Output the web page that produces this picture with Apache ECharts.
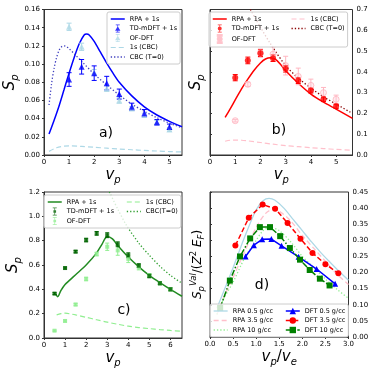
<!DOCTYPE html>
<html>
<head>
<meta charset="utf-8">
<script src="https://cdn.jsdelivr.net/npm/echarts@6/dist/echarts.min.js"></script>
<style>
html, body { margin: 0; padding: 0; background: #fff; }
#chart { width: 374px; height: 374px; }
</style>
</head>
<body>
<div id="chart"></div>
<script>
// ---- panel a) ----
const aRpaX = [0.2, 0.4, 0.6, 0.8, 1.0, 1.2, 1.4, 1.6, 1.7, 1.8, 2.0, 2.25, 2.5, 2.75, 3.0, 3.5, 4.0, 4.5, 5.0, 5.5];
const aRpaY = [0.023, 0.038, 0.054, 0.072, 0.090, 0.107, 0.122, 0.132, 0.133, 0.132, 0.125, 0.113, 0.101, 0.090, 0.080, 0.065, 0.053, 0.044, 0.037, 0.031];
const aCbcX = [0.2, 0.3, 0.4, 0.5, 0.6, 0.7, 0.8, 0.9, 1.0, 1.25, 1.5, 2.0, 2.5, 3.0, 3.5, 4.0, 4.5, 5.0, 5.5];
const aCbcY = [0.055, 0.078, 0.095, 0.107, 0.115, 0.119, 0.120, 0.119, 0.117, 0.110, 0.103, 0.089, 0.077, 0.066, 0.056, 0.048, 0.041, 0.035, 0.030];
const a1sX = [0.2, 0.5, 0.8, 1.0, 1.5, 2.0, 2.5, 3.0, 3.5, 4.0, 4.5, 5.0, 5.5];
const a1sY = [0.004, 0.008, 0.0098, 0.010, 0.0095, 0.0085, 0.0075, 0.0066, 0.0058, 0.005, 0.0044, 0.0038, 0.0033];
const aPtX = [1, 1.5, 2, 2.5, 3, 3.5, 4, 4.5, 5];
const aTdY = [0.083, 0.097, 0.090, 0.079, 0.067, 0.053, 0.046, 0.036, 0.031];
const aTdE = [0.0075, 0.008, 0.008, 0.0075, 0.0055, 0.004, 0.004, 0.003, 0.003];
const aOfY = [0.141, 0.119, 0.091, 0.073, 0.060, 0.051, 0.044, 0.036, 0.028];
const aOfE = [0.004, 0.004, 0.003, 0.003, 0.003, 0.002, 0.002, 0.002, 0.002];

// ---- panel b) ----
const bRpaX = [0.6, 0.8, 1.0, 1.25, 1.5, 1.75, 2.0, 2.2, 2.4, 2.6, 2.8, 3.0, 3.5, 4.0, 4.5, 5.0, 5.65];
const bRpaY = [0.181, 0.222, 0.265, 0.318, 0.365, 0.408, 0.443, 0.462, 0.468, 0.460, 0.435, 0.405, 0.345, 0.293, 0.254, 0.221, 0.176];
const bCbcX = [1.6, 2.0, 2.4, 3.0, 3.5, 4.0, 4.5, 5.0, 5.65];
const bCbcY = [0.70, 0.615, 0.535, 0.43, 0.37, 0.322, 0.28, 0.245, 0.20];
const b1sX = [0.6, 0.8, 1.0, 1.25, 1.5, 2.0, 2.5, 3.0, 3.5, 4.0, 4.5, 5.0, 5.65];
const b1sY = [0.066, 0.071, 0.072, 0.071, 0.068, 0.060, 0.052, 0.045, 0.040, 0.035, 0.031, 0.027, 0.023];
const bPtX = [1, 1.5, 2, 2.5, 3, 3.5, 4, 4.5, 5];
const bTdY = [0.372, 0.455, 0.49, 0.466, 0.415, 0.358, 0.31, 0.268, 0.234];
const bTdE = [0.015, 0.016, 0.016, 0.016, 0.016, 0.014, 0.012, 0.011, 0.01];
const bOfY = [0.165, 0.34, 0.49, 0.485, 0.43, 0.378, 0.335, 0.30, 0.268];
const bOfE = [0.006, 0.01, 0.02, 0.035, 0.045, 0.04, 0.03, 0.025, 0.02];

// ---- panel c) ----
const cRpaX = [0.55, 0.65, 0.8, 1.0, 1.25, 1.5, 2.0, 2.5, 2.75, 3.0, 3.25, 3.5, 4.0, 4.5, 5.0, 5.5, 6.0, 6.55];
const cRpaY = [0.365, 0.34, 0.39, 0.44, 0.48, 0.52, 0.60, 0.70, 0.77, 0.835, 0.815, 0.76, 0.665, 0.585, 0.515, 0.455, 0.40, 0.343];
const cCbcX = [3.1, 3.5, 3.9, 4.5, 5.0, 5.5, 6.0, 6.55];
const cCbcY = [1.2, 1.06, 0.93, 0.78, 0.68, 0.59, 0.515, 0.45];
const c1sX = [0.6, 0.8, 0.9, 1.0, 1.25, 1.5, 2.0, 2.5, 3.0, 3.5, 4.0, 4.5, 5.0, 5.5, 6.0, 6.55];
const c1sY = [0.19, 0.20, 0.205, 0.204, 0.198, 0.19, 0.17, 0.15, 0.13, 0.113, 0.097, 0.086, 0.077, 0.069, 0.062, 0.056];
const cPtX = [0.5, 1, 1.5, 2, 2.5, 3, 3.5, 4, 4.5, 5, 5.5, 6];
const cTdY = [0.365, 0.575, 0.71, 0.805, 0.86, 0.845, 0.77, 0.68, 0.595, 0.51, 0.45, 0.40];
const cTdE = [0.008, 0.008, 0.01, 0.015, 0.015, 0.02, 0.02, 0.02, 0.015, 0.015, 0.012, 0.012];
const cOfY = [0.06, 0.14, 0.275, 0.485, 0.69, 0.75, 0.72, 0.65, 0.58, 0.515, 0.45, 0.40];
const cOfE = [0.005, 0.008, 0.01, 0.015, 0.015, 0.03, 0.04, 0.03, 0.02, 0.015, 0.012, 0.012];

// ---- panel d) ----
const dRpa05X = [0.15, 0.22, 0.5, 0.75, 1.0, 1.15, 1.28, 1.4, 1.6, 1.8, 2.0, 2.2, 2.4, 2.6, 2.8, 3.0];
const dRpa05Y = [0.09, 0.114, 0.215, 0.31, 0.395, 0.423, 0.43, 0.425, 0.40, 0.365, 0.33, 0.295, 0.262, 0.232, 0.203, 0.176];
const dRpa35X = [0.15, 0.27, 0.5, 0.75, 1.0, 1.2, 1.35, 1.5, 1.75, 2.0, 2.25, 2.5, 2.75, 3.0];
const dRpa35Y = [0.07, 0.114, 0.185, 0.265, 0.34, 0.383, 0.395, 0.39, 0.36, 0.315, 0.275, 0.235, 0.195, 0.163];
const dRpa10X = [0.15, 0.3, 0.5, 0.75, 1.0, 1.15, 1.3, 1.5, 1.75, 2.0, 2.25, 2.5, 2.75, 3.0];
const dRpa10Y = [0.07, 0.12, 0.17, 0.245, 0.30, 0.33, 0.34, 0.33, 0.295, 0.25, 0.215, 0.18, 0.148, 0.12];
const dDft05X = [0.77, 0.95, 1.13, 1.33, 1.55, 1.92, 2.31, 2.71];
const dDft05Y = [0.25, 0.285, 0.303, 0.304, 0.283, 0.249, 0.211, 0.165];
const dDft35X = [0.55, 0.84, 1.14, 1.41, 1.68, 1.96, 2.22, 2.5, 2.78];
const dDft35Y = [0.284, 0.37, 0.411, 0.398, 0.354, 0.305, 0.261, 0.226, 0.198];
const dDft10X = [0.22, 0.43, 0.65, 0.87, 1.08, 1.30, 1.52, 1.73, 1.95, 2.16, 2.38, 2.59];
const dDft10Y = [0.09, 0.175, 0.25, 0.306, 0.341, 0.341, 0.313, 0.276, 0.24, 0.208, 0.181, 0.16];

// tick values
const aXTicks = [0, 1, 2, 3, 4, 5];
const aYTicks = [0, 0.02, 0.04, 0.06, 0.08, 0.10, 0.12, 0.14, 0.16];
const bYTicks = [0, 0.1, 0.2, 0.3, 0.4, 0.5, 0.6, 0.7];
const cXTicks = [0, 1, 2, 3, 4, 5, 6];
const cYTicks = [0, 0.2, 0.4, 0.6, 0.8, 1.0, 1.2];
const dXTicks = [0, 0.5, 1.0, 1.5, 2.0, 2.5, 3.0];
const dYTicks = [0, 0.05, 0.10, 0.15, 0.20, 0.25, 0.30, 0.35, 0.40, 0.45];

const FONT = "DejaVu Sans";
const FRAME = "#333";

const pairs = (xs, ys) => xs.map((x, i) => [x, ys[i]]);

// legend icons: marker with an error bar, like matplotlib's errorbar handles
const BAR = "M3,0H9V1H3Z M5.5,0H6.5V12H5.5Z M3,11H9V12H3Z ";
const ICON_TRI = "path://" + BAR + "M6,2.5L10,9.5H2Z";
const ICON_CIRC = "path://" + BAR + "M6,3A3,3 0 1,1 5.99,3Z";
const ICON_SQ = "path://" + BAR + "M4,4H8V8H4Z";

const rich = {
    i: { fontSize: 15, fontStyle: "italic", fontFamily: FONT, color: "#000", lineHeight: 20, verticalAlign: "middle" },
    n: { fontSize: 15, fontFamily: FONT, color: "#000", lineHeight: 20, verticalAlign: "middle" },
    sub: { fontSize: 10, fontStyle: "italic", fontFamily: FONT, color: "#000", lineHeight: 8, verticalAlign: "bottom" },
    si: { fontSize: 12, fontStyle: "italic", fontFamily: FONT, color: "#000", lineHeight: 17, verticalAlign: "middle" },
    sn: { fontSize: 12, fontFamily: FONT, color: "#000", lineHeight: 17, verticalAlign: "middle" },
    ssub: { fontSize: 8.5, fontStyle: "italic", fontFamily: FONT, color: "#000", lineHeight: 7, verticalAlign: "bottom" },
    ssup: { fontSize: 8.5, fontStyle: "italic", fontFamily: FONT, color: "#000", lineHeight: 7, verticalAlign: "top" },
    ssupn: { fontSize: 8.5, fontFamily: FONT, color: "#000", lineHeight: 7, verticalAlign: "top" },
};

const value_axis = function (grid, min, max, ticks, digits, extra) {
    return Object.assign({
        type: "value",
        gridIndex: grid,
        min: min,
        max: max,
        nameLocation: "middle",
        nameTextStyle: { rich: rich },
        axisLine: { show: true, lineStyle: { color: FRAME, width: 1 } },
        axisTick: { show: true, length: 2, customValues: ticks, lineStyle: { color: FRAME } },
        axisLabel: {
            customValues: ticks,
            formatter: (v) => v.toFixed(digits),
            fontSize: 7,
            fontFamily: FONT,
            color: "#000",
            margin: 4,
        },
        splitLine: { show: false },
    }, extra || {});
};

const name_axis = function (grid, min, max, name, gap) {
    return {
        type: "value",
        gridIndex: grid,
        min: min,
        max: max,
        position: "left",
        name: name,
        nameLocation: "middle",
        nameGap: gap,
        nameTextStyle: { rich: rich },
        axisLine: { show: false },
        axisTick: { show: false },
        axisLabel: { show: false },
        splitLine: { show: false },
    };
};

const line = function (name, ax, ay, xs, ys, color, width, type) {
    return {
        type: "line",
        name: name,
        xAxisIndex: ax,
        yAxisIndex: ay,
        data: pairs(xs, ys),
        symbol: "none",
        smooth: 0.3,
        lineStyle: { color: color, width: width, type: type || "solid" },
        itemStyle: { color: color },
        z: 2,
    };
};

const marked_line = function (name, ax, ay, xs, ys, color, type, symbol) {
    return {
        type: "line",
        name: name,
        xAxisIndex: ax,
        yAxisIndex: ay,
        data: pairs(xs, ys),
        symbol: symbol,
        symbolSize: 6,
        showSymbol: true,
        lineStyle: { color: color, width: 1.5, type: type },
        itemStyle: { color: color },
        z: 3,
    };
};

const points = function (name, ax, ay, xs, ys, symbol, size, itemStyle) {
    return {
        type: "scatter",
        name: name,
        xAxisIndex: ax,
        yAxisIndex: ay,
        data: pairs(xs, ys),
        symbol: symbol,
        symbolSize: size,
        itemStyle: itemStyle,
        z: 4,
    };
};

const err_bars = function (ax, ay, xs, ys, es, color, cap) {
    return {
        type: "custom",
        xAxisIndex: ax,
        yAxisIndex: ay,
        silent: true,
        z: 3,
        data: xs.map((x, i) => [x, ys[i], es[i]]),
        encode: { x: 0, y: 1 },
        renderItem: function (params, api) {
            const x = api.value(0), y = api.value(1), e = api.value(2);
            const lo = api.coord([x, y - e]);
            const hi = api.coord([x, y + e]);
            const style = { stroke: color, lineWidth: 1 };
            return {
                type: "group",
                children: [
                    { type: "line", shape: { x1: lo[0], y1: lo[1], x2: hi[0], y2: hi[1] }, style: style },
                    { type: "line", shape: { x1: lo[0] - cap, y1: lo[1], x2: lo[0] + cap, y2: lo[1] }, style: style },
                    { type: "line", shape: { x1: hi[0] - cap, y1: hi[1], x2: hi[0] + cap, y2: hi[1] }, style: style },
                ],
            };
        },
    };
};

// legend; names in the first column get a fixed text width so the
// second column starts where matplotlib put it
const legend = function (left, top, data, colWidth) {
    const firstCol = [];
    for (const d of data) {
        if (d === "") break;
        firstCol.push(typeof d === "string" ? d : d.name);
    }
    const tStyle = { fontSize: 6.5, fontFamily: FONT, color: "#000", lineHeight: 8 };
    return {
        left: left,
        top: top,
        orient: "vertical",
        itemWidth: 14,
        itemHeight: 8,
        itemGap: 1.5,
        padding: [3, 3, 3, 3],
        backgroundColor: "rgba(255,255,255,0.8)",
        borderColor: "#cccccc",
        borderWidth: 1,
        borderRadius: 2,
        selectedMode: false,
        lineStyle: { width: "inherit" },
        formatter: (n) => (colWidth && firstCol.includes(n) ? "{t|" + n.slice(2) + "}" : n.slice(2)),
        textStyle: Object.assign({ rich: { t: Object.assign({ width: colWidth || null }, tStyle) } }, tStyle),
        data: data,
    };
};

const no_mark = { opacity: 0 };

const option = {
    animation: false,
    backgroundColor: "#fff",
    grid: [
        { left: 44, top: 9.5, width: 138, height: 145.5, show: true, borderColor: FRAME, borderWidth: 1 },
        { left: 210, top: 9.5, width: 142.5, height: 145.5, show: true, borderColor: FRAME, borderWidth: 1 },
        { left: 44, top: 192, width: 138, height: 146, show: true, borderColor: FRAME, borderWidth: 1 },
        { left: 210, top: 192, width: 138.5, height: 145, show: true, borderColor: FRAME, borderWidth: 1 },
    ],
    xAxis: [
        value_axis(0, 0, 5.5, aXTicks, 0, { name: "{i|v}{sub|p}", nameGap: 10 }),
        value_axis(1, 0, 5.65, aXTicks, 0, { name: "{i|v}{sub|p}", nameGap: 10 }),
        value_axis(2, 0, 6.55, cXTicks, 0, { name: "{i|v}{sub|p}", nameGap: 10 }),
        value_axis(3, 0, 3.0, dXTicks, 1, { name: "{i|v}{sub|p}{n|/}{i|v}{sub|e}", nameGap: 10 }),
    ],
    yAxis: [
        value_axis(0, 0, 0.16, aYTicks, 2, { position: "left", name: "{i|S}{sub|p}", nameGap: 23 }),
        value_axis(1, 0, 0.7, bYTicks, 1, { position: "right" }),
        name_axis(1, 0, 0.7, "{i|S}{sub|p}", 4),
        value_axis(2, 0, 1.2, cYTicks, 1, { position: "left", name: "{i|S}{sub|p}", nameGap: 21 }),
        value_axis(3, 0, 0.45, dYTicks, 2, { position: "right" }),
        name_axis(3, 0, 0.45, "{si|S}{ssub|p}{ssup|Val}{sn|/(}{si|Z}{ssupn|2}{sn| }{si|E}{ssub|F}{sn|)}", 4),
    ],
    legend: [
        legend(107, 12, [
            { name: "a:RPA + 1s", itemStyle: no_mark },
            { name: "a:TD-mDFT + 1s", icon: ICON_TRI },
            { name: "a:OF-DFT", icon: ICON_TRI },
            { name: "a:1s (CBC)", itemStyle: no_mark },
            { name: "a:CBC (T=0)", itemStyle: no_mark },
        ]),
        legend(209, 12, [
            { name: "b:RPA + 1s", itemStyle: no_mark },
            { name: "b:TD-mDFT + 1s", icon: ICON_CIRC },
            { name: "b:OF-DFT", icon: ICON_CIRC },
            "",
            { name: "b:1s (CBC)", itemStyle: no_mark },
            { name: "b:CBC (T=0)", itemStyle: no_mark },
        ], 57.5),
        legend(44, 195, [
            { name: "c:RPA + 1s", itemStyle: no_mark },
            { name: "c:TD-mDFT + 1s", icon: ICON_SQ },
            { name: "c:OF-DFT", icon: ICON_SQ },
            "",
            { name: "c:1s (CBC)", itemStyle: no_mark },
            { name: "c:CBC(T=0)", itemStyle: no_mark },
        ], 57.8),
        legend(210, 304, [
            { name: "d:RPA 0.5 g/cc", itemStyle: no_mark },
            { name: "d:RPA 3.5 g/cc", itemStyle: no_mark },
            { name: "d:RPA 10 g/cc", itemStyle: no_mark },
            "",
            "d:DFT 0.5 g/cc",
            "d:DFT 3.5 g/cc",
            "d:DFT 10 g/cc",
        ], 51),
    ],
    graphic: [
        { type: "text", x: 106, y: 133, style: { text: "a)", font: "14px DejaVu Sans", fill: "#000", align: "center", verticalAlign: "middle" }, z: 10 },
        { type: "text", x: 279, y: 130, style: { text: "b)", font: "14px DejaVu Sans", fill: "#000", align: "center", verticalAlign: "middle" }, z: 10 },
        { type: "text", x: 124, y: 310, style: { text: "c)", font: "14px DejaVu Sans", fill: "#000", align: "center", verticalAlign: "middle" }, z: 10 },
        { type: "text", x: 262, y: 285, style: { text: "d)", font: "14px DejaVu Sans", fill: "#000", align: "center", verticalAlign: "middle" }, z: 10 },
    ],
    series: [
        // a)
        line("a:RPA + 1s", 0, 0, aRpaX, aRpaY, "#0000ff", 1.5),
        err_bars(0, 0, aPtX, aOfY, aOfE, "#add8e6", 2.5),
        points("a:OF-DFT", 0, 0, aPtX, aOfY, "triangle", 6, { color: "#add8e6" }),
        err_bars(0, 0, aPtX, aTdY, aTdE, "#0000ff", 2.5),
        points("a:TD-mDFT + 1s", 0, 0, aPtX, aTdY, "triangle", 6, { color: "#0000ff" }),
        line("a:1s (CBC)", 0, 0, a1sX, a1sY, "#add8e6", 1.2, [5, 3]),
        line("a:CBC (T=0)", 0, 0, aCbcX, aCbcY, "#3f3fbf", 1.3, [1.3, 2]),
        // b)
        line("b:RPA + 1s", 1, 1, bRpaX, bRpaY, "#ff0000", 1.5),
        err_bars(1, 1, bPtX, bOfY, bOfE, "#ffb6c1", 2.5),
        points("b:OF-DFT", 1, 1, bPtX, bOfY, "circle", 6, { color: "rgba(255,210,220,0.5)", borderColor: "#ffb6c1", borderWidth: 1 }),
        err_bars(1, 1, bPtX, bTdY, bTdE, "#ff0000", 2.5),
        points("b:TD-mDFT + 1s", 1, 1, bPtX, bTdY, "circle", 6, { color: "#ff0000" }),
        line("b:1s (CBC)", 1, 1, b1sX, b1sY, "#ffc0cb", 1.2, [5, 3]),
        line("b:CBC (T=0)", 1, 1, bCbcX, bCbcY, "#8b0000", 1.3, [1.3, 2]),
        // c)
        line("c:RPA + 1s", 2, 3, cRpaX, cRpaY, "#228b22", 1.5),
        err_bars(2, 3, cPtX, cOfY, cOfE, "#90ee90", 2),
        points("c:OF-DFT", 2, 3, cPtX, cOfY, "rect", 4, { color: "#90ee90" }),
        err_bars(2, 3, cPtX, cTdY, cTdE, "#006400", 2),
        points("c:TD-mDFT + 1s", 2, 3, cPtX, cTdY, "rect", 4, { color: "#006400" }),
        line("c:1s (CBC)", 2, 3, c1sX, c1sY, "#90ee90", 1.2, [5, 3]),
        line("c:CBC(T=0)", 2, 3, cCbcX, cCbcY, "#32a032", 1.3, [1.3, 2]),
        // d)
        line("d:RPA 0.5 g/cc", 3, 4, dRpa05X, dRpa05Y, "#add8e6", 1.3),
        line("d:RPA 3.5 g/cc", 3, 4, dRpa35X, dRpa35Y, "#ffc0cb", 1.3, [5, 3]),
        line("d:RPA 10 g/cc", 3, 4, dRpa10X, dRpa10Y, "#90ee90", 1.3, [1.3, 2]),
        marked_line("d:DFT 0.5 g/cc", 3, 4, dDft05X, dDft05Y, "#0000ff", "solid", "triangle"),
        marked_line("d:DFT 3.5 g/cc", 3, 4, dDft35X, dDft35Y, "#ff0000", [5, 2.5], "circle"),
        marked_line("d:DFT 10 g/cc", 3, 4, dDft10X, dDft10Y, "#008000", [6, 2, 1.5, 2], "rect"),
    ],
};

const chart = echarts.init(document.getElementById("chart"), null, { renderer: "canvas" });
chart.setOption(option);
</script>
</body>
</html>
